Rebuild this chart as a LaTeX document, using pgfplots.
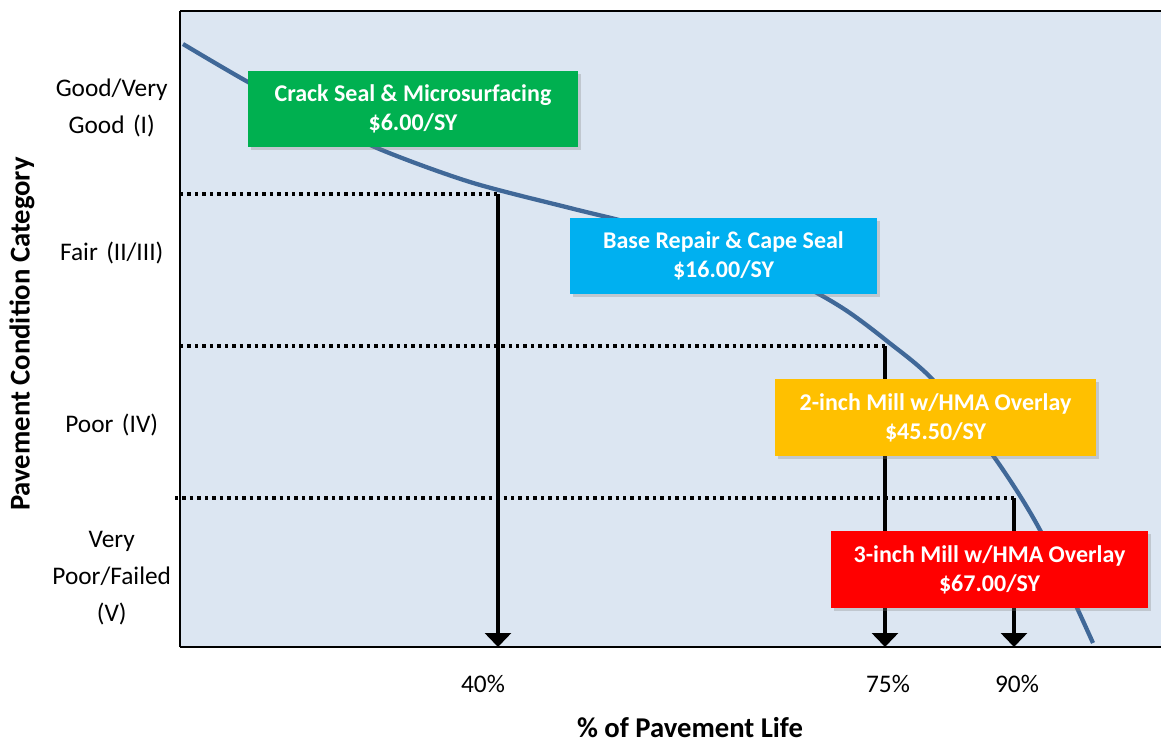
\documentclass[border=0pt]{standalone}
\usepackage{fontspec}
\setmainfont{Carlito}
\usepackage{pgfplots}
\usepackage{pgfplotstable}
\pgfplotsset{compat=1.18}
\usetikzlibrary{arrows.meta,shadows}
\definecolor{bgblue}{RGB}{220,230,242}
\definecolor{curveblue}{RGB}{64,104,152}
\definecolor{boxgreen}{RGB}{0,176,80}
\definecolor{boxblue}{RGB}{0,176,240}
\definecolor{boxyellow}{RGB}{255,192,0}
\definecolor{boxred}{RGB}{255,0,0}
\pgfplotstableread{
x y
183 700
248 662
310 630
377 596
470 562
570 536
627 522
700 502
760 480
817 451
850 431
887 403
933 364
992 290
1040 214
1093 101
}\curvedata
\begin{document}
\begin{tikzpicture}
\begin{axis}[
  scale only axis,
  width=735.75pt, height=477pt,
  xmin=180, xmax=1161, ymin=97, ymax=733,
  clip=false,
  axis lines*=left,
  axis line style={line width=1.5pt, black},
  axis background/.style={fill=bgblue},
  major tick length=0pt,
  xtick={483,888,1017},
  xticklabels={40\%,75\%,90\%},
  xticklabel style={font=\fontsize{19}{23}\selectfont, inner sep=0pt, yshift=-21pt},
  ytick={636,491,319,166},
  yticklabels={{Good/Very\\Good (I)},{Fair (II/III)},{Poor (IV)},{Very\\Poor/Failed\\(V)}},
  yticklabel style={font=\fontsize{19}{27.75}\selectfont, align=center, text width=97.5pt, inner sep=0pt, xshift=-2.25pt},
  xlabel={\% of Pavement Life},
  xlabel style={font=\fontsize{21.5}{26}\selectfont\bfseries, at={(axis cs:690,16)}, anchor=center},
  ylabel={Pavement Condition Category},
  ylabel style={font=\fontsize{21.5}{26}\selectfont\bfseries, at={(axis cs:22,410)}, anchor=center},
]
% top border
\draw[line width=1.5pt, black] (axis cs:180,733) -- (axis cs:1161,733);
% dotted guide lines
\addplot[black, line width=2.4pt, dash pattern=on 2.6pt off 3pt] coordinates {(180,550) (498,550)};
\addplot[black, line width=2.4pt, dash pattern=on 2.6pt off 3pt] coordinates {(180,398) (885,398)};
\addplot[black, line width=2.4pt, dash pattern=on 2.6pt off 3pt] coordinates {(175,246) (1014,246)};
% arrows
\addplot[black, line width=2.4pt, -{Triangle[width=19.5pt,length=10.5pt]}] coordinates {(498,550) (498,97)};
\addplot[black, line width=2.4pt, -{Triangle[width=19.5pt,length=10.5pt]}] coordinates {(885,398) (885,97)};
\addplot[black, line width=2.4pt, -{Triangle[width=19.5pt,length=10.5pt]}] coordinates {(1014,246) (1014,97)};
% curve
\addplot[curveblue, line width=3.2pt, smooth, no marks] table[x=x,y=y] {\curvedata};
% treatment boxes
\tikzset{tbox/.style={draw=none, text=white, align=center, inner sep=0pt,
  font=\fontsize{18}{21.75}\selectfont\bfseries,
  drop shadow={shadow xshift=2pt, shadow yshift=-2pt, opacity=0.3}}}
\node[tbox, fill=boxgreen, minimum width=247.5pt, minimum height=57pt] at (axis cs:413,635) {Crack Seal \& Microsurfacing\\\$6.00/SY};
\node[tbox, fill=boxblue, minimum width=230.25pt, minimum height=57pt] at (axis cs:723.5,488) {Base Repair \& Cape Seal\\\$16.00/SY};
\node[tbox, fill=boxyellow, minimum width=240.75pt, minimum height=57.75pt] at (axis cs:935.5,326.5) {2-inch Mill w/HMA Overlay\\\$45.50/SY};
\node[tbox, fill=boxred, minimum width=237.75pt, minimum height=57.75pt] at (axis cs:989.5,174.5) {3-inch Mill w/HMA Overlay\\\$67.00/SY};
\coordinate (bbsw) at (axis cs:0,0);
\coordinate (bbne) at (axis cs:1161,744);
\end{axis}
\pgfresetboundingbox
\path[use as bounding box] (bbsw) rectangle (bbne);
\end{tikzpicture}
\end{document}
